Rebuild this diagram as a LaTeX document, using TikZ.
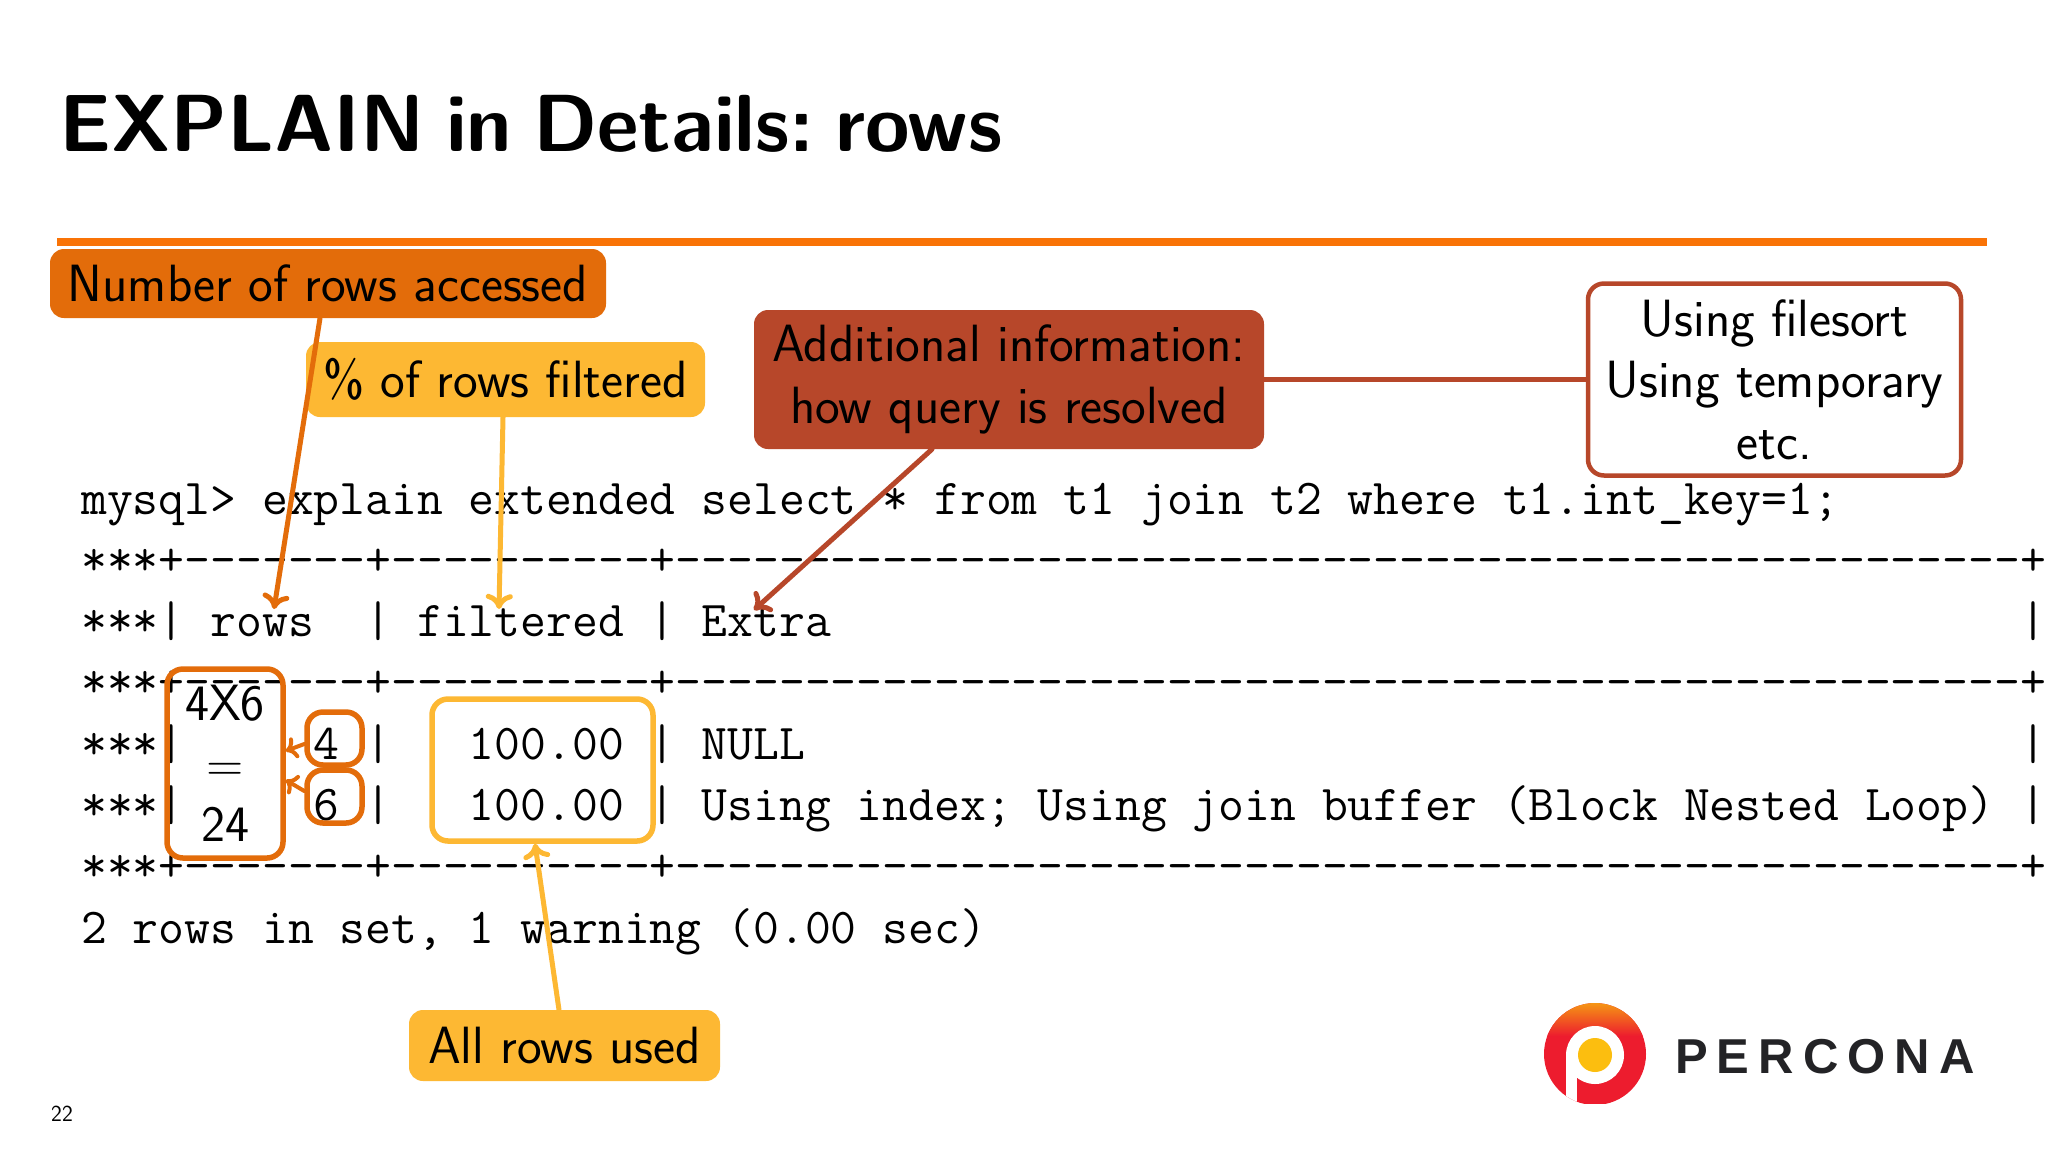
\documentclass[tikz,border=0pt]{standalone}
\usepackage{fontspec}
\newfontfamily\percfont[LetterSpace=18.5]{Liberation Sans Bold}
\usetikzlibrary{arrows.meta}
\definecolor{porange}{HTML}{E36C0A}
\definecolor{pyellow}{HTML}{FDB833}
\definecolor{pred}{HTML}{B7472A}
\definecolor{prule}{HTML}{F97306}
\newcommand\rpt[2]{\foreach \ii in {1,...,#1}{#2}}
\tikzset{
  codeline/.style={anchor=base west,inner sep=0pt,font=\fontsize{50.2}{61}\selectfont\ttfamily\frenchspacing},
  label/.style={inner sep=0pt,align=center,text=black,rounded corners=14pt,font=\fontsize{52.4}{61.5}\selectfont\sffamily},
  solidbox/.style={label,fill=#1},
  outlinebox/.style={label,draw=#1,line width=5.5pt,rounded corners=16pt},
  conn/.style={draw=#1,line width=5pt},
  arrowconn/.style={conn=#1,-{Computer Modern Rightarrow[length=15pt,width=27pt]},line cap=round},
  smallarrow/.style={draw=#1,line width=4pt,-{Computer Modern Rightarrow[length=11pt,width=22pt]},line cap=round},
}
\begin{document}
\begin{tikzpicture}[x=1pt,y=-1pt]
\useasboundingbox[fill=white] (0,0) rectangle (2048,1152);
% title and rule
\node[anchor=base west,inner sep=0pt,font=\fontsize{81}{90}\selectfont\sffamily\bfseries] (title) at (59,151) {\frenchspacing\spaceskip=21pt EXPLAIN in Details: rows};
\fill[prule] (57,238) rectangle (1987,246);
% code
\node[codeline] (l0) at (81,514) {mysql> explain extended select * from t1 join t2 where t1.int\_key=1;};
\node[codeline] (l1) at (81,575) {***+\rpt{7}{-}+\rpt{10}{-}+\rpt{52}{-}+};
\node[codeline] (l2) at (81,636.5) {***|~rows~~|~filtered~|~Extra\rpt{46}{~}|};
\node[codeline] (l3) at (81,697.5) {***+\rpt{7}{-}+\rpt{10}{-}+\rpt{52}{-}+};
\node[codeline] (l4) at (81,759) {***|~~~~~4~|~~~100.00~|~NULL\rpt{47}{~}|};
\node[codeline] (l5) at (81,820) {***|~~~~~6~|~~~100.00~|~Using index; Using join buffer (Block Nested Loop)~|};
\node[codeline] (l6) at (81,881) {***+\rpt{7}{-}+\rpt{10}{-}+\rpt{52}{-}+};
\node[codeline] (l7) at (81,943) {2 rows in set, 1 warning (0.00 sec)};
% callouts
\node[solidbox=porange,minimum width=556pt,minimum height=69pt] (acc) at (328,283.5) {Number of rows accessed};
\node[solidbox=pyellow,minimum width=399pt,minimum height=75pt] (fil) at (505.5,379.5) {\% of rows filtered};
\node[solidbox=pred,minimum width=510pt,minimum height=139pt] (add) at (1009,379.5) {Additional information:\\how query is resolved};
\node[outlinebox=pred,line width=4.5pt,minimum width=373pt,minimum height=192pt] (ext) at (1774.5,379.5) {Using filesort\\Using temporary\\etc.};
\node[solidbox=pyellow,minimum width=311pt,minimum height=71pt] (all) at (564.5,1045.5) {All rows used};
\node[outlinebox=porange,minimum width=116pt,minimum height=189pt,font=\fontsize{51}{60.5}\selectfont\sffamily] (prod) at (225,763.5) {4X6\\=\\24};
\node[outlinebox=porange,minimum width=55pt,minimum height=53pt] (four) at (334.5,738.5) {};
\node[outlinebox=porange,minimum width=55pt,minimum height=53pt] (six) at (334.5,796.5) {};
\node[outlinebox=pyellow,minimum width=221pt,minimum height=142pt] (pct) at (542.5,770) {};
% connector ends
\coordinate (accOut) at (acc.south -| 320,0);
\coordinate (rowsTip) at (274,609);
\coordinate (filOut) at (fil.south -| 503,0);
\coordinate (filTip) at (499,609);
\coordinate (addOut) at (add.south -| 932,0);
\coordinate (extraTip) at (754,610);
\coordinate (allOut) at (all.north -| 559,0);
\coordinate (pctIn) at (pct.south -| 535,0);
\coordinate (fourOut) at (four.west |- 0,744);
\coordinate (fourIn) at (prod.east |- 0,751);
\coordinate (sixOut) at (six.west |- 0,791);
\coordinate (sixIn) at (prod.east |- 0,780);
% connectors
\draw[arrowconn=porange] (accOut) -- (rowsTip);
\draw[arrowconn=pyellow] (filOut) -- (filTip);
\draw[arrowconn=pred] (addOut) -- (extraTip);
\draw[conn=pred] (add.east) -- (ext.west);
\draw[arrowconn=pyellow] (allOut) -- (pctIn);
\draw[smallarrow=porange] (fourOut) -- (fourIn);
\draw[smallarrow=porange] (sixOut) -- (sixIn);
% logo
\begin{scope}
\clip (1595,1054) circle (51pt);
\fill[fill={rgb,255:red,237;green,28;blue,46}] (1540,1000) rectangle (1650,1104);
\shade[top color={rgb,255:red,245;green,150;blue,20},bottom color={rgb,255:red,237;green,28;blue,46}] (1540,1003) rectangle (1650,1036);
\fill[white] (1595,1055) circle (29pt);
\fill[white] (1566,1055) rectangle (1577,1104);
\fill[fill={rgb,255:red,252;green,190;blue,15}] (1595,1055) circle (17pt);
\end{scope}
\node[anchor=base west,inner sep=0pt,text={rgb,255:red,35;green,35;blue,38},font=\fontsize{49}{50}\selectfont\percfont] (brand) at (1675,1073) {PERCONA};
% page
\node[anchor=base west,inner sep=0pt,font=\fontsize{23}{25}\selectfont\sffamily] (page) at (51,1121) {22};
\end{tikzpicture}
\end{document}
